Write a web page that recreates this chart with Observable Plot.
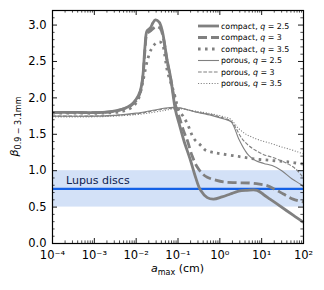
<!DOCTYPE html>
<html><head><meta charset="utf-8">
<script src="https://cdn.jsdelivr.net/npm/d3@7"></script>
<script src="https://cdn.jsdelivr.net/npm/@observablehq/plot@0.6"></script>
<style>body{margin:0;background:#fff;} svg{display:block;}</style>
</head><body><div id="chart"></div>
<script>
// ---- data: [log10(a_max / cm), beta] ----
const compactQ25 = [[-4,1.80],[-3.4,1.80],[-2.8,1.80],[-2.5,1.82],[-2.3,1.85],[-2.13,1.90],[-2.0,1.98],[-1.9,2.1],[-1.84,2.3],[-1.79,2.7],[-1.74,2.92],[-1.66,2.96],[-1.6,3.03],[-1.54,3.07],[-1.45,3.04],[-1.38,2.93],[-1.26,2.52],[-1.18,2.29],[-1.06,1.83],[-0.96,1.62],[-0.86,1.415],[-0.7,1.14],[-0.58,0.91],[-0.46,0.73],[-0.3,0.63],[-0.15,0.61],[0.05,0.64],[0.25,0.68],[0.45,0.72],[0.65,0.73],[0.89,0.73],[1.05,0.67],[1.2,0.61],[1.4,0.53],[1.6,0.45],[1.8,0.37],[2.0,0.29]];
const compactQ3 = [[-4,1.80],[-3.4,1.80],[-2.8,1.80],[-2.5,1.82],[-2.3,1.85],[-2.13,1.89],[-2.0,1.96],[-1.9,2.08],[-1.84,2.28],[-1.79,2.65],[-1.74,2.88],[-1.66,2.92],[-1.58,2.96],[-1.5,2.98],[-1.42,2.95],[-1.35,2.82],[-1.26,2.5],[-1.17,2.25],[-1.05,1.88],[-0.95,1.7],[-0.85,1.52],[-0.78,1.42],[-0.66,1.2],[-0.54,1.05],[-0.42,0.96],[-0.3,0.91],[-0.1,0.87],[0.09,0.845],[0.4,0.835],[0.73,0.83],[0.95,0.815],[1.13,0.795],[1.3,0.75],[1.52,0.68],[1.75,0.61],[2.0,0.57]];
const compactQ35 = [[-4,1.79],[-3.4,1.79],[-2.8,1.79],[-2.5,1.80],[-2.3,1.82],[-2.13,1.86],[-2.0,1.93],[-1.93,2.01],[-1.83,2.25],[-1.73,2.52],[-1.63,2.68],[-1.55,2.74],[-1.45,2.77],[-1.38,2.75],[-1.32,2.6],[-1.26,2.38],[-1.18,2.22],[-1.1,2.08],[-0.98,1.83],[-0.88,1.75],[-0.78,1.65],[-0.62,1.44],[-0.46,1.35],[-0.34,1.28],[-0.15,1.25],[0.05,1.23],[0.45,1.195],[0.85,1.16],[1.25,1.14],[1.64,1.12],[2.0,1.09]];
const porousQ25 = [[-4,1.75],[-3,1.75],[-2.5,1.76],[-2.0,1.79],[-1.6,1.83],[-1.3,1.86],[-1.1,1.87],[-0.94,1.86],[-0.6,1.81],[-0.2,1.76],[0.1,1.71],[0.27,1.67],[0.45,1.44],[0.6,1.28],[0.69,1.21],[0.85,1.14],[1.05,1.10],[1.25,1.07],[1.48,1.0],[1.72,0.89],[1.96,0.80],[2.0,0.77]];
const porousQ3 = [[-4,1.75],[-3,1.75],[-2.5,1.76],[-2.0,1.78],[-1.6,1.82],[-1.3,1.85],[-1.1,1.86],[-0.94,1.86],[-0.6,1.81],[-0.2,1.77],[0.1,1.72],[0.27,1.68],[0.53,1.44],[0.7,1.34],[0.85,1.28],[1.05,1.22],[1.25,1.185],[1.45,1.14],[1.64,1.09],[1.8,1.03],[1.96,0.93],[2.0,0.90]];
const porousQ35 = [[-4,1.74],[-3,1.74],[-2.5,1.75],[-2.0,1.77],[-1.6,1.80],[-1.3,1.83],[-1.1,1.85],[-0.94,1.85],[-0.6,1.82],[-0.2,1.78],[0.1,1.74],[0.25,1.71],[0.45,1.58],[0.6,1.51],[0.77,1.46],[1.0,1.41],[1.25,1.37],[1.45,1.33],[1.64,1.30],[1.85,1.26],[2.0,1.23]];
const seriesLabels = [["compact","2.5"],["compact","3"],["compact","3.5"],["porous","2.5"],["porous","3"],["porous","3.5"]];
const lupusBand = [0.5, 1.0];
const lupusBeta = [0.75];
const lupusLabel = ["Lupus discs"];
const xDomain = [1e-4, 1e2];
const yDomain = [0, 3.2];
const xTickExponents = [-4,-3,-2,-1,0,1,2];
const yTickLabels = [0,0.5,1.0,1.5,2.0,2.5,3.0];

// ---- styles ----
const grey = "#808080";
const styles = [
  {sw: 2.8, dash: null},
  {sw: 2.8, dash: "9,4"},
  {sw: 2.8, dash: "2.6,4.4"},
  {sw: 1.1, dash: null},
  {sw: 1.1, dash: "3.7,1.6"},
  {sw: 1.1, dash: "1.1,1.65"}
];
const allSeries = [compactQ25, compactQ3, compactQ35, porousQ25, porousQ3, porousQ35];

const W = 324, H = 290, mL = 52, mR = 21, mT = 10, mB = 47;
const innerW = W - mL - mR, innerH = H - mT - mB;

const sup = {"-":"⁻","0":"⁰","1":"¹","2":"²","3":"³","4":"⁴","5":"⁵","6":"⁶","7":"⁷","8":"⁸","9":"⁹"};
const supStr = s => String(s).split("").map(c => sup[c] ?? "").join("");

const xMajor = xTickExponents.map(e => 10 ** e);
const xMinor = d3.scaleLog().domain(xDomain).ticks().filter(v => !xMajor.some(m => Math.abs(m - v) / m < 1e-9));
const yMajor = yTickLabels;
const yMinor = d3.range(0, 3.21, 0.1).filter(v => Math.abs(v * 2 - Math.round(v * 2)) > 1e-6);

// tick lengths (pixels) converted to data units of each scale
const bigT = 5, smallT = 2.6;
const yLen = px => px * (yDomain[1] - yDomain[0]) / innerH;
const xFac = px => 10 ** (px * Math.log10(xDomain[1] / xDomain[0]) / innerW);

const lineMarks = allSeries.map((s, i) => Plot.line(s, {
  x: d => 10 ** d[0], y: d => d[1], curve: "catmull-rom",
  stroke: grey, strokeWidth: styles[i].sw, strokeDasharray: styles[i].dash ?? undefined,
  strokeLinecap: "butt", strokeLinejoin: "round"
}));

const tickRules = [];
[[xMajor, bigT, 0.9], [xMinor, smallT, 0.7]].forEach(([vals, len, sw]) => {
  tickRules.push(Plot.ruleX(vals, {x: d => d, y1: yDomain[0], y2: yDomain[0] + yLen(len), stroke: "black", strokeWidth: sw}));
  tickRules.push(Plot.ruleX(vals, {x: d => d, y1: yDomain[1] - yLen(len), y2: yDomain[1], stroke: "black", strokeWidth: sw}));
});
[[yMajor, bigT, 0.9], [yMinor, smallT, 0.7]].forEach(([vals, len, sw]) => {
  tickRules.push(Plot.ruleY(vals, {y: d => d, x1: xDomain[0], x2: xDomain[0] * xFac(len), stroke: "black", strokeWidth: sw}));
  tickRules.push(Plot.ruleY(vals, {y: d => d, x1: xDomain[1] / xFac(len), x2: xDomain[1], stroke: "black", strokeWidth: sw}));
});

const chart = Plot.plot({
  width: W, height: H, marginLeft: mL, marginRight: mR, marginTop: mT, marginBottom: mB,
  style: {fontFamily: "DejaVu Sans, sans-serif", fontSize: "11px", background: "white", color: "black"},
  x: {type: "log", domain: xDomain, axis: null},
  y: {domain: yDomain, axis: null},
  marks: [
    Plot.rect([lupusBand], {x1: xDomain[0], x2: xDomain[1], y1: d => d[0], y2: d => d[1], fill: "#d3e1f7"}),
    Plot.ruleY(lupusBeta, {stroke: "#1461e6", strokeWidth: 2.2}),
    Plot.text(lupusLabel, {x: 2.1e-4, y: 0.865, text: d => d, textAnchor: "start", fill: "#0f2350", fontSize: 11}),
    ...lineMarks,
    ...tickRules,
    Plot.frame({stroke: "black", strokeWidth: 1.2}),
    Plot.axisX(xMajor, {tickSize: 0, tickPadding: 7, fontSize: 11.5, label: null,
      tickFormat: d => "10" + supStr(Math.round(Math.log10(d))), fill: "black"}),
    Plot.axisY(yMajor, {tickSize: 0, tickPadding: 6, fontSize: 11.5, label: null,
      tickFormat: d => d.toFixed(1), fill: "black"})
  ]
});

const svg = d3.select(chart);
// x label
const xl = svg.append("text").attr("x", mL + innerW / 2).attr("y", 272)
  .attr("text-anchor", "middle").attr("font-size", 11).attr("fill", "black");
xl.append("tspan").attr("font-style", "italic").text("a");
xl.append("tspan").attr("font-size", 8).attr("dy", 2.5).text("max");
xl.append("tspan").attr("dy", -2.5).text(" (cm)");
// y label
const yl = svg.append("text").attr("transform", `translate(18,${mT + innerH / 2}) rotate(-90)`)
  .attr("text-anchor", "middle").attr("font-size", 11).attr("fill", "black");
yl.append("tspan").attr("font-style", "italic").text("β");
yl.append("tspan").attr("font-size", 8).attr("dy", 2.5).text("0.9 − 3.1mm");

// legend
const lg = svg.append("g").attr("text-anchor", "start");
seriesLabels.forEach(([kind, q], i) => {
  const y = 26 + i * 11.5;
  lg.append("line").attr("x1", 198).attr("x2", 219).attr("y1", y).attr("y2", y)
    .attr("stroke", grey).attr("stroke-width", styles[i].sw)
    .attr("stroke-dasharray", styles[i].dash);
  const t = lg.append("text").attr("x", 221).attr("y", y).attr("dy", "0.35em")
    .attr("text-anchor", "start").attr("font-size", 7.9).attr("fill", "black");
  t.append("tspan").text(kind + ", ");
  t.append("tspan").attr("font-style", "italic").text("q");
  t.append("tspan").text(" = " + q);
});

document.getElementById("chart").appendChild(chart);
</script>
</body></html>
